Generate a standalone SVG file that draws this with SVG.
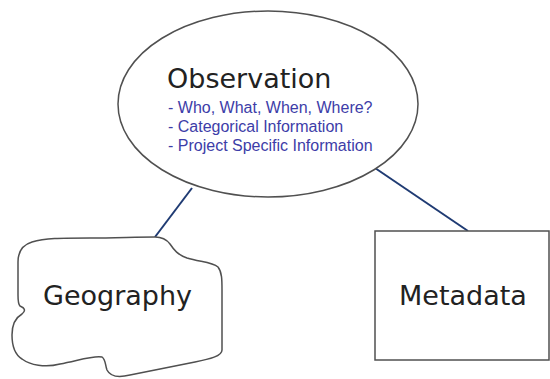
<svg xmlns="http://www.w3.org/2000/svg" width="550" height="379" viewBox="0 0 550 379">
<style>
.shape{fill:#fff;stroke:#505050;stroke-width:1.5}
.conn{stroke:#1f3b73;stroke-width:2;fill:none}
.big{font-family:"DejaVu Sans",Verdana,sans-serif;font-size:27px;fill:#222}
.sub{font-family:"Liberation Sans",Arial,sans-serif;font-size:16px;fill:#3d3da8}
</style>
<rect width="550" height="379" fill="#fff"/>
<g id="connectors">
<line class="conn" x1="192" y1="188" x2="155" y2="237"/>
<line class="conn" x1="375" y1="168" x2="468" y2="231"/>
</g>
<g id="observation">
<ellipse class="shape" cx="268" cy="104" rx="150" ry="93"/>
<text class="big" x="167" y="88" font-size="28">Observation</text>
<text class="sub" x="168" y="113">- Who, What, When, Where?</text>
<text class="sub" x="168" y="132">- Categorical Information</text>
<text class="sub" x="168" y="151">- Project Specific Information</text>
</g>
<g id="geography">
<path class="shape" d="M155,237 C162,237 167,240 170,244 C174,250 178,255 187,258 C200,262 212,262 218,267 C222,272 222,280 222,290 L222,350 C222,356 210,359 195,362 C175,366 150,371 130,375 C118,378 110,376 107,370 C105,365 106,360 102,357 C95,355 80,360 60,364 C45,368 30,365 22,359 C14,354 12,346 12,335 C12,325 15,318 22,314 C26,311 25,308 20,306 C18,304 18,300 18,295 L18,262 C18,252 22,245 32,242 C45,238 60,238 90,238 C115,238 135,237 155,237 Z"/>
<text class="big" x="43" y="305">Geography</text>
</g>
<g id="metadata">
<rect class="shape" x="375" y="231" width="174" height="129"/>
<text class="big" x="399" y="305">Metadata</text>
</g>
</svg>
